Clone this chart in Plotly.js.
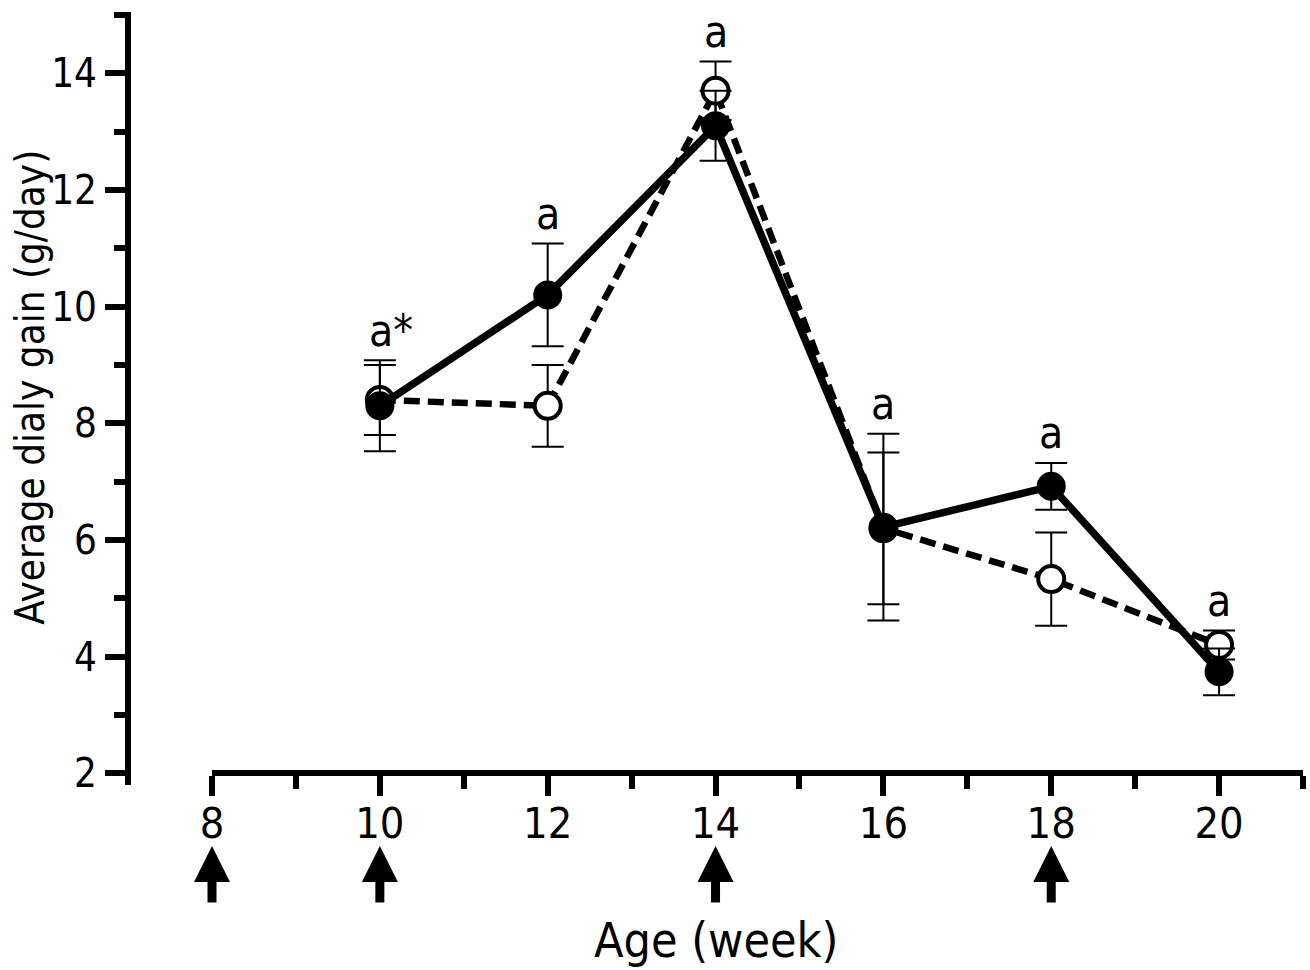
<!DOCTYPE html>
<html>
<head>
<meta charset="utf-8">
<script src="https://cdn.plot.ly/plotly-3.0.1.min.js"></script>
<style>html,body{margin:0;padding:0;background:#fff;}#chart{width:1310px;height:970px;}</style>
</head>
<body>
<div id="chart"></div>
<script>
// ---- data ----
var weeks = [10, 12, 14, 16, 18, 20];
var filledMean = [8.3, 10.2, 13.1, 6.22, 6.92, 3.74];
var filledErr  = [0.78, 0.88, 0.6, 1.6, 0.4, 0.4];
var openMean   = [8.4, 8.3, 13.7, 6.2, 5.33, 4.2];
var openErr    = [0.6, 0.7, 0.5, 1.3, 0.8, 0.25];
var sigLabels  = ['a*', 'a', 'a', 'a', 'a', 'a'];
var arrowWeeks = [8, 10, 14, 18];
var xTickVals  = [8, 10, 12, 14, 16, 18, 20];
var yTickVals  = [2, 4, 6, 8, 10, 12, 14];
var xTitle = 'Age (week)';
var yTitle = 'Average dialy gain (g/day)';

var FONT = '"DejaVu Sans Condensed", Tahoma, sans-serif';

var openTrace = {
  x: weeks, y: openMean, type: 'scatter', mode: 'lines+markers',
  line: {color: '#000', width: 6.5, dash: '16px,8px'},
  marker: {symbol: 'circle', size: 26, color: '#fff', line: {color: '#000', width: 4}},
  error_y: {type: 'data', array: openErr, visible: true, color: '#000', thickness: 2, width: 16},
  cliponaxis: false, showlegend: false, hoverinfo: 'x+y'
};
var filledTrace = {
  x: weeks, y: filledMean, type: 'scatter', mode: 'lines+markers',
  line: {color: '#000', width: 7.5},
  marker: {symbol: 'circle', size: 29, color: '#000', line: {color: '#000', width: 0}},
  error_y: {type: 'data', array: filledErr, visible: true, color: '#000', thickness: 2, width: 16},
  cliponaxis: false, showlegend: false, hoverinfo: 'x+y'
};

var annotations = [];
weeks.forEach(function (w, i) {
  var top = Math.max(filledMean[i] + filledErr[i], openMean[i] + openErr[i]);
  var lab = sigLabels[i];
  var star = lab.indexOf('*') >= 0;
  annotations.push({
    x: w, y: top, xref: 'x', yref: 'y', text: lab, showarrow: false,
    xanchor: star ? 'left' : 'center', xshift: star ? -13 : 0,
    yanchor: 'middle', yshift: 30,
    font: {family: FONT, size: 44, color: '#000'}
  });
});
arrowWeeks.forEach(function (w) {
  annotations.push({
    x: w, y: -0.079, xref: 'x', yref: 'paper', text: '',
    showarrow: true, arrowhead: 2, arrowwidth: 9, arrowsize: 0.8, arrowcolor: '#000',
    ax: 0, ay: 58, axref: 'pixel', ayref: 'pixel'
  });
});
// axis titles
annotations.push({
  x: (xTickVals[0] + xTickVals[xTickVals.length - 1]) / 2, y: -0.2005, xref: 'x', yref: 'paper',
  text: xTitle, showarrow: false, xanchor: 'center', yanchor: 'middle',
  font: {family: FONT, size: 48, color: '#000'}
});
annotations.push({
  x: -0.0835, y: 0.515, xref: 'paper', yref: 'paper', textangle: -90,
  text: yTitle, showarrow: false, xanchor: 'center', yanchor: 'middle',
  font: {family: FONT, size: 40, color: '#000'}
});

var layout = {
  width: 1310, height: 970,
  margin: {l: 128, r: 7, t: 12, b: 185},
  paper_bgcolor: '#fff', plot_bgcolor: '#fff',
  font: {family: FONT, color: '#000', size: 42},
  showlegend: false,
  xaxis: {
    domain: [84 / 1175, 1], range: [8, 21],
    anchor: 'free', position: 0.2 / 13.25,
    showline: true, linewidth: 6, linecolor: '#000',
    ticks: 'outside', ticklen: 20, tickwidth: 6, tickcolor: '#000',
    tickmode: 'array', tickvals: xTickVals, ticktext: xTickVals.map(String),
    minor: {dtick: 1, tick0: 8, ticks: 'outside', ticklen: 13, tickwidth: 6, tickcolor: '#000'},
    tickfont: {family: FONT, size: 43, color: '#000'},
    ticklabelstandoff: -10,
    showgrid: false, zeroline: false
  },
  yaxis: {
    domain: [0, 1], range: [1.8, 15.05],
    anchor: 'free', position: 0,
    showline: true, linewidth: 6, linecolor: '#000',
    ticks: 'outside', ticklen: 20, tickwidth: 6, tickcolor: '#000',
    tickmode: 'array', tickvals: yTickVals, ticktext: yTickVals.map(String),
    minor: {dtick: 1, tick0: 1, ticks: 'outside', ticklen: 11, tickwidth: 6, tickcolor: '#000'},
    tickfont: {family: FONT, size: 40, color: '#000'},
    showgrid: false, zeroline: false
  },
  annotations: annotations
};

Plotly.newPlot('chart', [openTrace, filledTrace], layout, {displayModeBar: false, staticPlot: true});
</script>
</body>
</html>
